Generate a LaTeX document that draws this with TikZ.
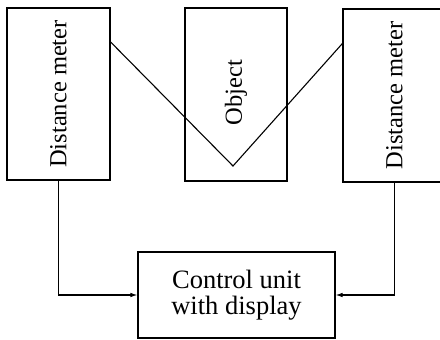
\documentclass[tikz,border=0pt]{standalone}
\usepackage{fontspec}
\setmainfont{Liberation Serif}
\usetikzlibrary{arrows.meta}

\begin{document}
\begin{tikzpicture}[x=1pt,y=-1pt,line width=1.1pt,
  block/.style={draw,inner sep=0pt,align=center,font=\fontsize{24.5}{27}\selectfont},
  feed/.style={-{Latex[length=7pt,width=4.5pt]}}]
\path[use as bounding box] (0,0) rectangle (440,340);
\node[block,minimum width=103,minimum height=172] (meterL) at (58.5,94) {\rotatebox{90}{Distance meter}};
\node[block,minimum width=102,minimum height=173] (object) at (236,94.5) {\raisebox{4pt}{\rotatebox{90}{Object}}};
\node[block,minimum width=103,minimum height=173] (meterR) at (394.5,95.5) {\rotatebox{90}{Distance meter}};
\node[block,minimum width=197,minimum height=86,font=\fontsize{26.5}{26}\selectfont] (control) at (236.5,295) {Control unit\\with display};
\coordinate (bounce) at (233,166);
\draw (meterL.45) -- (bounce) -- (meterR.135);
\draw[feed] (meterL.south) |- (control.west);
\draw[feed] (meterR.south) |- (control.east);
\end{tikzpicture}
\end{document}
